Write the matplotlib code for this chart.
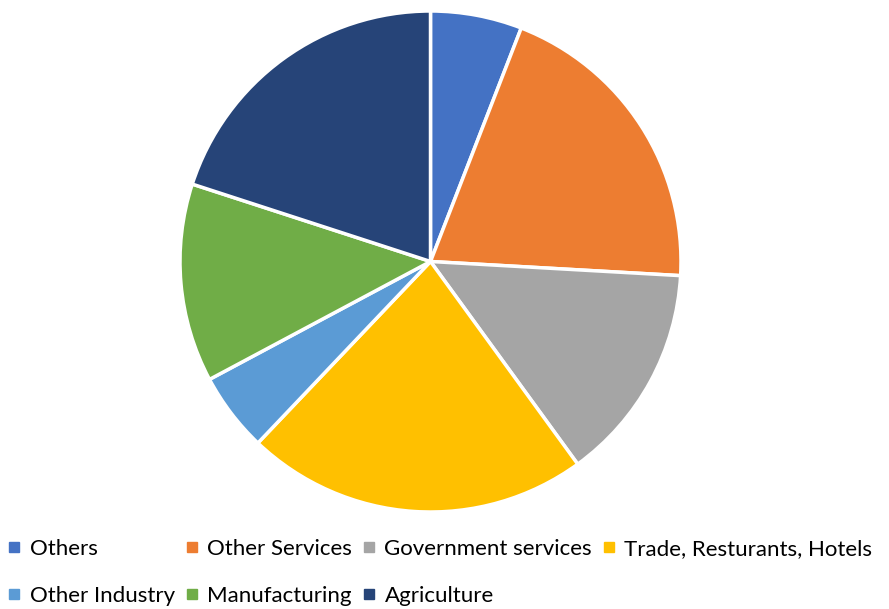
import matplotlib.pyplot as plt
from matplotlib.lines import Line2D

plt.rcParams['font.family'] = ['Lato', 'DejaVu Sans']

sectors = ["Others", "Other Services", "Government services", "Trade, Resturants, Hotels",
           "Other Industry", "Manufacturing", "Agriculture"]
shares = [5.9, 20.0, 14.1, 22.1, 5.1, 12.8, 20.0]
colors = ["#4472C4", "#ED7D31", "#A5A5A5", "#FFC000", "#5B9BD5", "#70AD47", "#264478"]

fig = plt.figure(figsize=(8.89, 6.09), dpi=100)
ax = fig.add_axes([180 / 889, 97 / 609, 501 / 889, 501 / 609])
ax.pie(shares, colors=colors, startangle=90, counterclock=False,
       wedgeprops=dict(edgecolor="white", linewidth=2.5))
ax.set_xlim(-1, 1)
ax.set_ylim(-1, 1)
ax.set_aspect("equal")

handles = [Line2D([], [], marker="s", linestyle="none", markersize=7,
                  color=c, label=s) for s, c in zip(sectors, colors)]
# legend fills column-first, so reorder to get row-major layout
order = [0, 4, 1, 5, 2, 6, 3]
fig.legend([handles[i] for i in order], [sectors[i] for i in order],
           loc="upper left", bbox_to_anchor=(0.0, 1 - 530 / 609), ncol=4,
           frameon=False, fontsize=16, handlelength=0.5, handletextpad=0.45,
           columnspacing=0.5, labelspacing=1.2, borderaxespad=0.1,
           borderpad=0.3)

fig.savefig("out.png", dpi=100)
